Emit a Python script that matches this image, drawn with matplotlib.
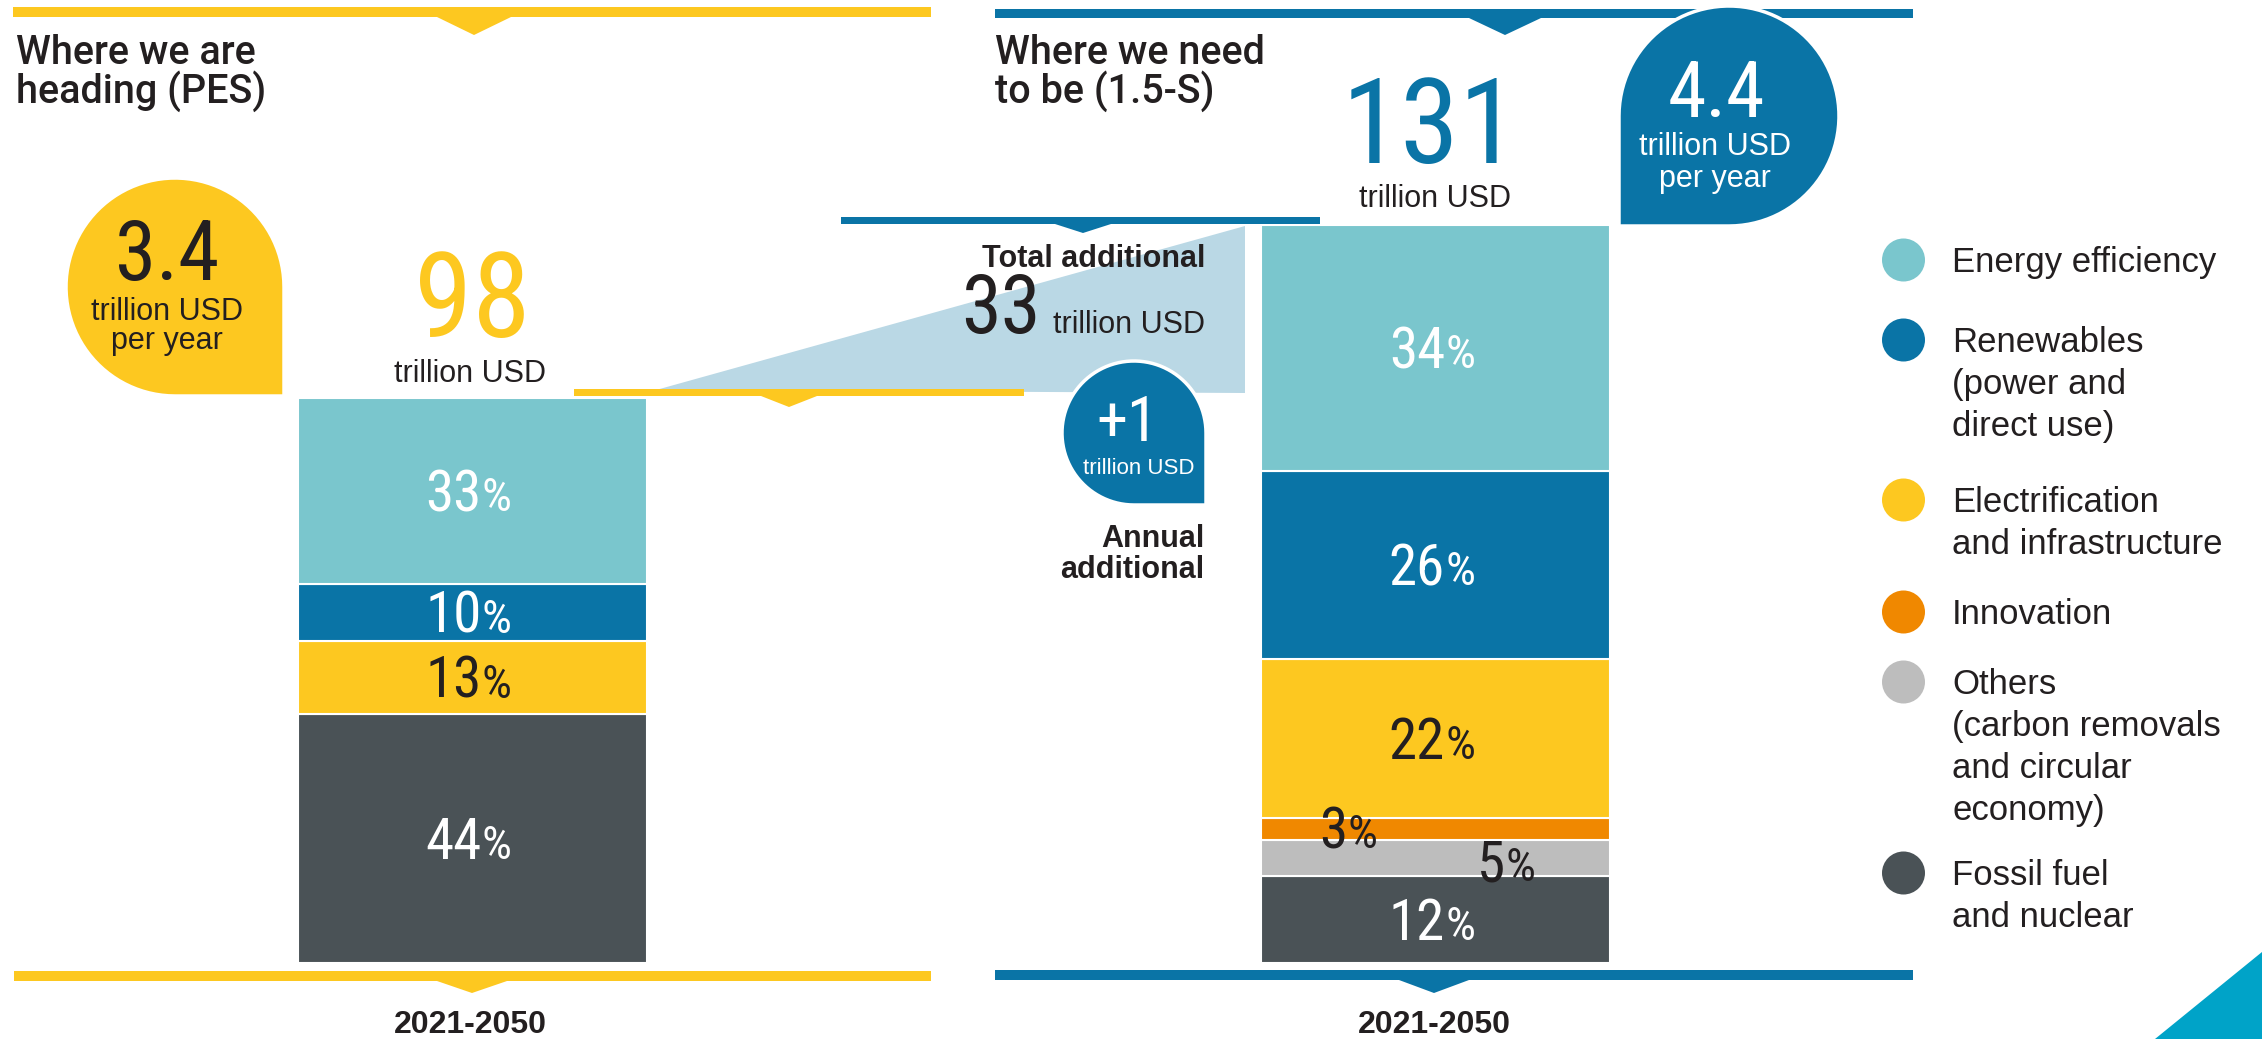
import matplotlib
matplotlib.use('Agg')
import matplotlib.pyplot as plt
from matplotlib import font_manager
from matplotlib.font_manager import FontProperties
from matplotlib.patches import Polygon, Circle
from matplotlib.transforms import offset_copy
import numpy as np

# ---- data ----
categories = ['Energy efficiency', 'Renewables', 'Electrification', 'Innovation', 'Others', 'Fossil fuel']
legend_lines = [['Energy efficiency'],
                ['Renewables', '(power and', 'direct use)'],
                ['Electrification', 'and infrastructure'],
                ['Innovation'],
                ['Others', '(carbon removals', 'and circular', 'economy)'],
                ['Fossil fuel', 'and nuclear']]
pes_share = [33, 10, 13, 0, 0, 44]   # % Where we are heading (PES)
ies_share = [34, 26, 22, 3, 5, 12]   # % Where we need to be (1.5-S)
pes_total = 98      # trillion USD 2021-2050
ies_total = 131
pes_annual = '3.4'
ies_annual = '4.4'
total_additional = '33'
annual_additional = '+1'
period = '2021-2050'

colors = ['#7AC6CD', '#0A74A6', '#FDC820', '#F08800', '#BDBDBD', '#4A5256']
label_colors = ['white', 'white', '#231F20', '#231F20', '#231F20', 'white']
YELLOW = '#FDC820'
BLUE = '#0A74A6'
DARK = '#231F20'

# fonts: regular sans for words, a condensed face (if any) for the big numbers
flist = font_manager.fontManager.ttflist
names = set(f.name for f in flist)
SANS = 'Liberation Sans' if 'Liberation Sans' in names else 'DejaVu Sans'
num_fp = None
for fam in ['Liberation Sans Narrow', 'Roboto Condensed', 'Noto Sans', 'Open Sans', 'DejaVu Sans', 'Roboto']:
    for f in flist:
        if f.name.startswith(fam) and f.stretch in ('condensed', 'semi-condensed', 'extra-condensed') \
                and f.style == 'normal' and f.weight in (400, 'normal', 'regular', 'book'):
            num_fp = f.fname
            break
    if num_fp:
        break
# medium face for the two panel titles
title_fp = None
for fam in ['Roboto', 'Noto Sans', 'Open Sans', 'Inter', 'Lato']:
    for f in flist:
        if f.name == fam and f.stretch == 'normal' and f.style == 'normal' and f.weight in (500, 'medium'):
            title_fp = f.fname
            break
    if title_fp:
        break

NUMK = 1.0 if num_fp else 0.88   # shrink numbers when no condensed face exists


def numfont(size):
    if num_fp:
        return dict(fontproperties=FontProperties(fname=num_fp, size=size))
    return dict(family=SANS, fontsize=size * NUMK)


W, H = 2262, 1039
fig = plt.figure(figsize=(W / 100, H / 100), dpi=100)
ax = fig.add_axes([0, 0, 1, 1])
ax.set_xlim(0, W)
ax.set_ylim(H, 0)
ax.axis('off')


def txt(x, y, s, size, color=DARK, ha='left', weight='normal', z=5):
    ax.text(x, y, s, fontsize=size, color=color, ha=ha, va='baseline',
            fontweight=weight, family=SANS, zorder=z)


def num(x, y, s, size, color=DARK, ha='center', z=5):
    ax.text(x, y, s, color=color, ha=ha, va='baseline', zorder=z, **numfont(size))


def title(x, y, s):
    # y is the baseline of the last line
    if title_fp:
        ax.text(x, y, s, color=DARK, va='baseline', linespacing=0.95,
                fontproperties=FontProperties(fname=title_fp, size=28.5))
    else:
        ax.text(x, y, s, color=DARK, va='baseline', linespacing=0.95,
                fontsize=28, family=SANS)


def notch_line(x0, x1, y0, y1, xc, hw, tip, color):
    pts = [(x0, y0), (x1, y0), (x1, y1), (xc + hw, y1), (xc, tip), (xc - hw, y1), (x0, y1)]
    ax.add_patch(Polygon(pts, closed=True, facecolor=color, lw=0, zorder=2))


def bubble(cx, cy, r, color, square='br'):
    # circle with one quadrant squared off
    if square == 'br':
        th = np.radians(np.linspace(90, 360, 80))
        corner = (cx + r, cy + r)
    else:
        th = np.radians(np.linspace(180, 450, 80))
        corner = (cx - r, cy + r)
    pts = list(zip(cx + r * np.cos(th), cy + r * np.sin(th))) + [corner]
    ax.add_patch(Polygon(pts, closed=True, facecolor=color, edgecolor='white', lw=2.5, zorder=4))


# header / footer lines
notch_line(13, 931, 7, 17, 474, 37, 35, YELLOW)
notch_line(995, 1913, 9, 18, 1505, 36, 35, BLUE)
notch_line(14, 931, 971, 981, 472, 35, 993, YELLOW)
notch_line(995, 1913, 970, 980, 1434, 35, 993, BLUE)

# additional wedge
ax.add_patch(Polygon([(656, 390), (1245, 226), (1245, 393)], closed=True,
                     facecolor='#BAD8E5', lw=0, zorder=1))
notch_line(574, 1024, 389, 396, 789, 28, 407, YELLOW)
notch_line(841, 1320, 217, 224, 1083, 28, 233, BLUE)

# corner triangle
ax.add_patch(Polygon([(2155, 1039), (2262, 952), (2262, 1039)], closed=True,
                     facecolor='#00A3C8', lw=0))

# titles
title(16, 103, 'Where we are\nheading (PES)')
title(995, 103, 'Where we need\nto be (1.5-S)')

# bubbles
bubble(175, 287, 109, YELLOW, 'br')
num(167, 280, pes_annual, 60)
txt(167, 320, 'trillion USD', 22, ha='center')
txt(167, 349, 'per year', 22, ha='center')

bubble(1729, 116, 110, BLUE, 'bl')
num(1716, 117, ies_annual, 56, color='white')
txt(1715, 155, 'trillion USD', 22, color='white', ha='center')
txt(1715, 187, 'per year', 22, color='white', ha='center')

bubble(1134, 433, 72, BLUE, 'br')
num(1127, 441, annual_additional, 45, color='white')
txt(1139, 474, 'trillion USD', 16, color='white', ha='center')
txt(1204, 547, 'Annual', 22, ha='right', weight='bold')
txt(1204, 578, 'additional', 22, ha='right', weight='bold')

# totals
num(472, 337, str(pes_total), 85, color=YELLOW)
txt(470, 382, 'trillion USD', 22, ha='center')
num(1430, 163, str(ies_total), 86, color=BLUE)
txt(1435, 207, 'trillion USD', 22, ha='center')

txt(1205, 267, 'Total additional', 22, ha='right', weight='bold')
num(1041, 333, total_additional, 58, ha='right')
txt(1205, 333, 'trillion USD', 22, ha='right')

txt(470, 1033, period, 23, ha='center', weight='bold')
txt(1434, 1033, period, 23, ha='center', weight='bold')

# percent label metrics (px)
digit_w = 25.5 if num_fp else 27.5


# stacked bars
def draw_bar(rect, shares, shifts):
    x0, y0, x1, y1 = rect
    bax = fig.add_axes([x0 / W, 1 - y1 / H, (x1 - x0) / W, (y1 - y0) / H])
    bax.set_xlim(-0.5, 0.5)
    bax.set_ylim(0, sum(shares))
    bax.axis('off')
    bottom = 0
    for i in reversed(range(len(categories))):
        v = shares[i]
        if v == 0:
            continue
        bax.bar(0, v, width=1, bottom=bottom, color=colors[i], edgecolor='white', linewidth=1.5)
        n = len(str(v))
        sx, sy = shifts.get(i, (0, 0))
        dx = n * digit_w / 2 - 16 + sx
        tn = offset_copy(bax.transData, fig=fig, x=dx, y=-20 - sy, units='dots')
        tp = offset_copy(bax.transData, fig=fig, x=dx, y=-20 - sy, units='dots')
        mid = bottom + v / 2
        bax.text(0, mid, str(v), transform=tn, ha='right', va='baseline',
                 color=label_colors[i], clip_on=False, **numfont(41))
        bax.text(0, mid, '%', transform=tp, ha='left', va='baseline',
                 color=label_colors[i], clip_on=False, **numfont(34))
        bottom += v


draw_bar((298, 398, 647, 963), pes_share, {})
draw_bar((1261, 225, 1610, 963), ies_share, {3: (-85, -1), 4: (73, 3)})

# legend
leg_y = [260, 340, 500, 612, 682, 873]
for i, lines in enumerate(legend_lines):
    ax.add_patch(Circle((1903.5, leg_y[i]), 21.5, facecolor=colors[i], lw=0))
    for k, line in enumerate(lines):
        txt(1952, leg_y[i] + 12 + 42 * k, line, 25)

fig.savefig('out.png', dpi=100)
